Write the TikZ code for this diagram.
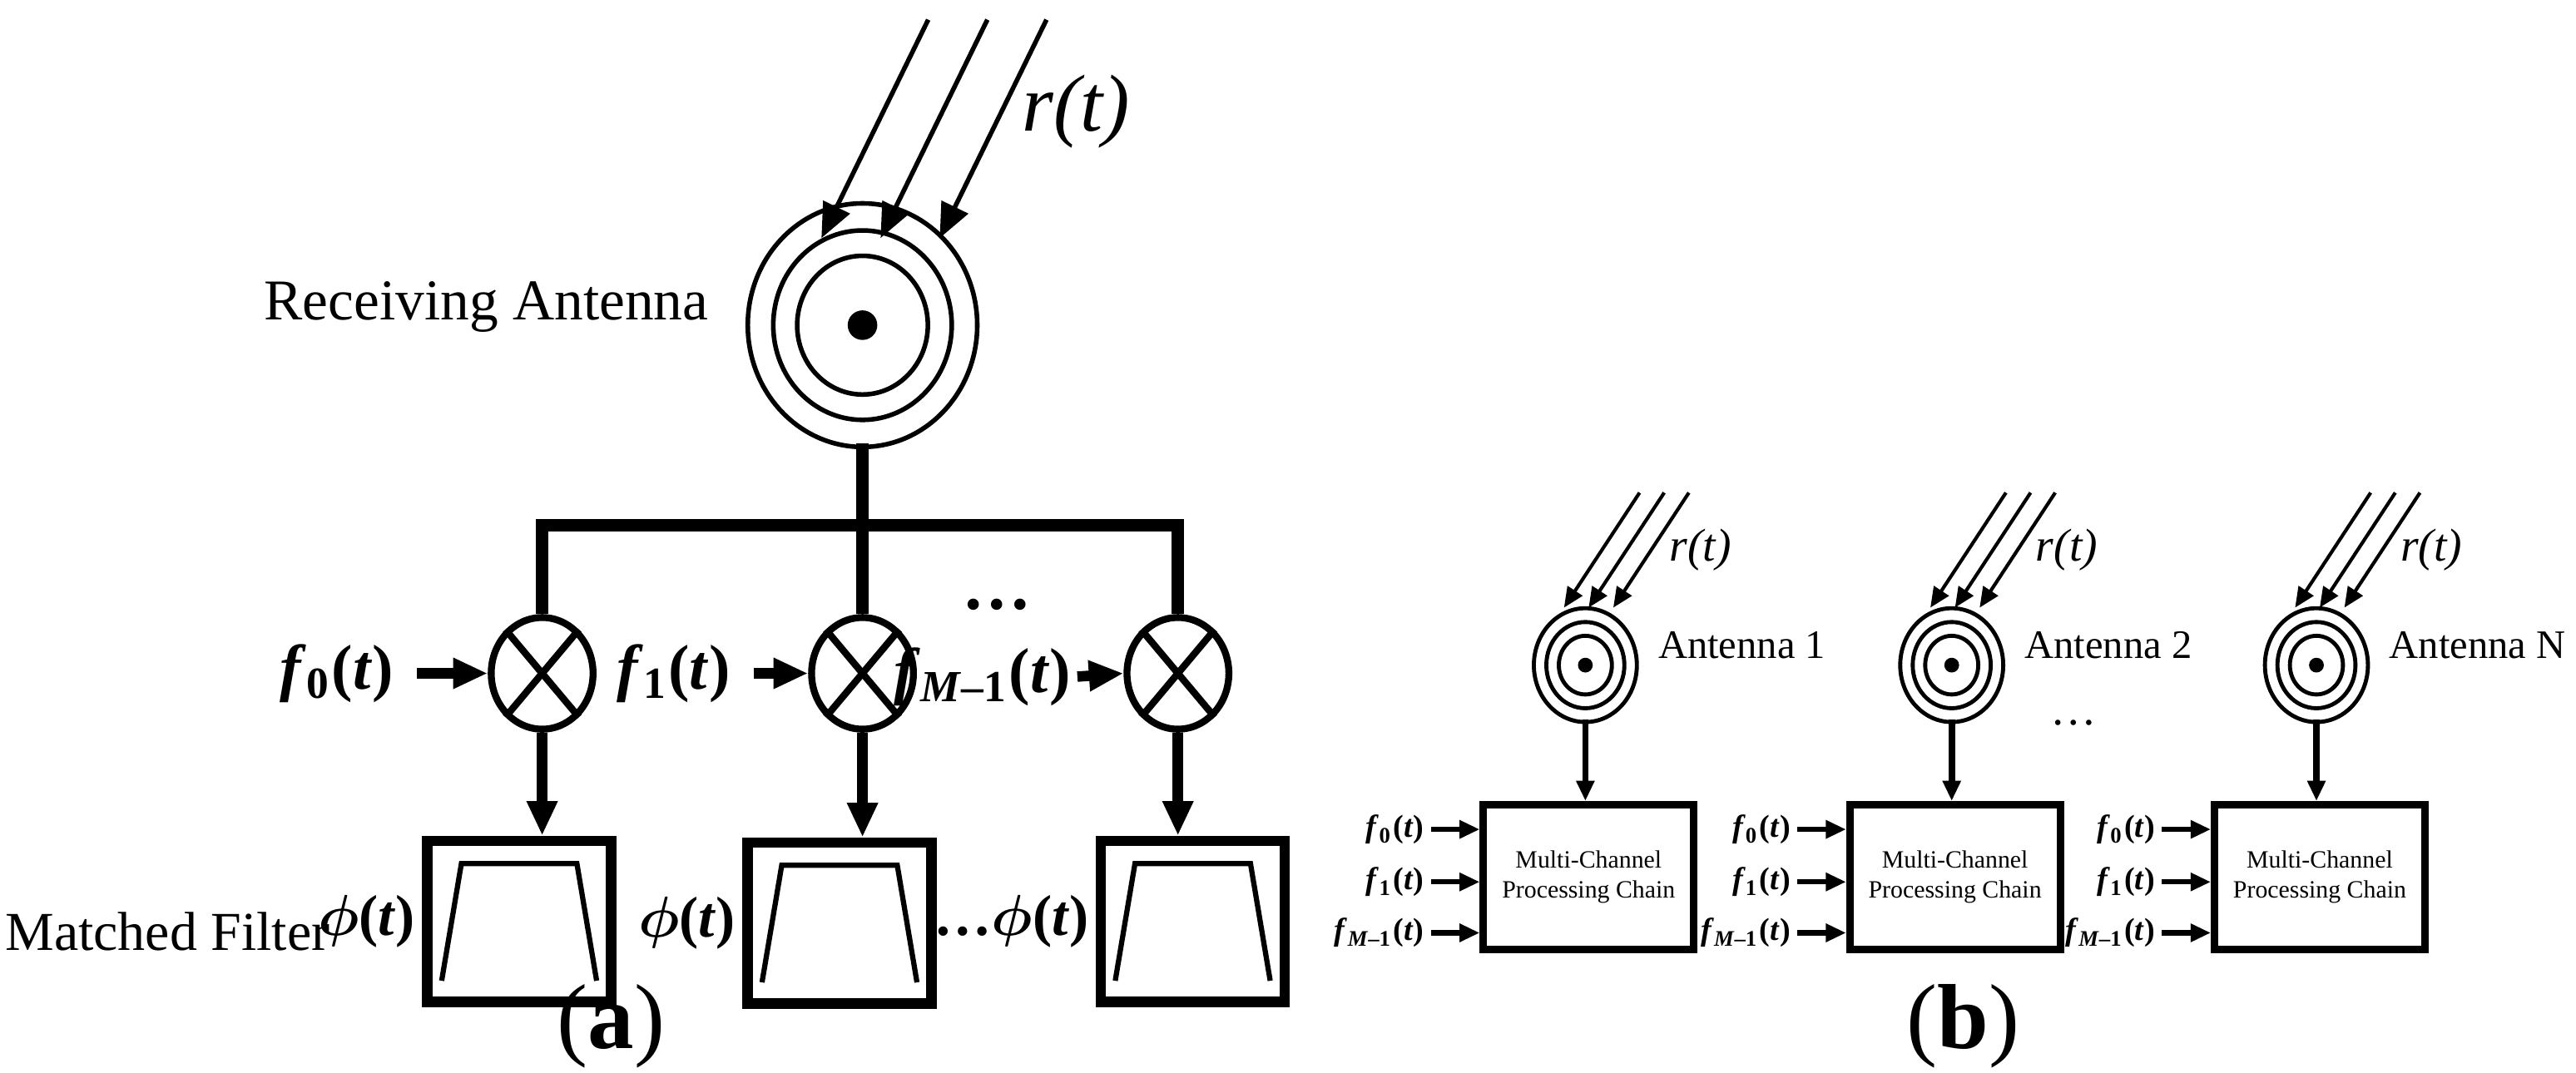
\documentclass[tikz,border=0pt]{standalone}
\usepackage{fontspec}
\setmainfont{Liberation Serif}
\usepackage{bm}
\usetikzlibrary{arrows.meta,shapes.geometric}
\newcommand{\fl}[1]{\textbf{\textit{f}}\textsubscript{\textbf{#1}}\textbf{(\textit{t})}}
\newcommand{\phit}{$\bm{\phi}$\textbf{(\textit{t})}}
\begin{document}
\begin{tikzpicture}[x=0.1mm,y=-0.1mm,
  thin/.style={line width=0.8pt},
  thickl/.style={line width=1.8pt},
  arr/.style={-{Triangle[length=6pt,width=5pt]}},
  sarr/.style={-{Triangle[length=3.5pt,width=3pt]}},
  mix/.style={ellipse,draw,line width=1.2pt,minimum width=6.2mm,minimum height=6.8mm,inner sep=0},
  filt/.style={draw,line width=1.8pt,minimum width=11.2mm,minimum height=9.8mm,inner sep=0},
  chain/.style={draw,line width=1.3pt,minimum width=12.8mm,minimum height=8.8mm,inner sep=0,align=center,font=\fontsize{4.3}{5.2}\selectfont},
  lab/.style={inner sep=1pt}]
\useasboundingbox (0,0) rectangle (1568,653);

% ---------- (a) ----------
\coordinate (A) at (525,198);
\foreach \r in {72,56,41} \draw[thin] (A) ellipse ({\r*0.97} and {\r*1.03});
\fill (A) circle (9);
\foreach \dx in {0,36,72} \draw[thin,arr] (565+\dx,12) -- (500+\dx,145);
\node[font=\fontsize{14}{17}\selectfont\itshape] (ra) at (655,68) {r(t)};
\node[font=\fontsize{10}{12}\selectfont] (recv) at (296,187) {Receiving Antenna};

\node[mix] (m0) at (330,410) {};
\node[mix] (m1) at (525,410) {};
\node[mix] (m2) at (717,410) {};
\foreach \m in {m0,m1,m2} {
  \draw[line width=1.2pt] (\m.50) -- (\m.230) (\m.130) -- (\m.-50);
}
\coordinate (top) at (525,270);
\coordinate (bus) at (525,320);
\draw[line width=2.2pt] (top) -- (bus);
\draw[line width=2.2pt] (m0.north) |- (m2.north |- bus) -- (m2.north);
\draw[line width=2.2pt] (bus) -- (m1.north);

\node[font=\fontsize{11}{14}\selectfont,lab] (f0) at (205,410) {\fl{0}};
\node[font=\fontsize{11}{14}\selectfont,lab] (f1) at (410,410) {\fl{1}};
\node[font=\fontsize{11}{14}\selectfont,lab] (f2) at (598,412) {\fl{\textit{M}--1}};
\node[font=\fontsize{12}{14}\selectfont\bfseries] (dots) at (607,368) {\dots};
\draw[thickl,arr] ([xshift=1mm]f0.east) -- (m0.west);
\draw[thickl,arr] ([xshift=1mm]f1.east) -- (m1.west);
\draw[thickl,arr] (f2.east) -- (m2.west);

\node[filt] (h0) at (316,561) {};
\node[filt] (h1) at (511,562) {};
\node[filt] (h2) at (726,561) {};
\foreach \h in {h0,h1,h2} {
  \draw[line width=0.9pt] ([xshift=1.2mm,yshift=1.6mm]\h.south west) -- ([xshift=2.4mm,yshift=-1.7mm]\h.north west)
     -- ([xshift=-2.4mm,yshift=-1.7mm]\h.north east) -- ([xshift=-1.2mm,yshift=1.6mm]\h.south east);
}
\draw[thickl,arr] (m0.south) -- (m0.south |- h0.north);
\draw[thickl,arr] (m1.south) -- (m1.south |- h1.north);
\draw[thickl,arr] (m2.south) -- (m2.south |- h2.north);

\node[font=\fontsize{10}{13}\selectfont,anchor=east,lab] (p0) at (h0.west) {\phit};
\node[font=\fontsize{10}{13}\selectfont,anchor=east,lab] (p1) at (h1.west) {\phit};
\node[font=\fontsize{10}{13}\selectfont,anchor=east,lab] (p2) at (h2.west) {\textbf{\dots}\phit};
\node[font=\fontsize{9.5}{12}\selectfont] (mf) at (102,567) {Matched Filter};
\node[font=\fontsize{16}{20}\selectfont] (capa) at (372,625) {(\textbf{a})};

% ---------- (b) ----------
\foreach \i/\x/\nm in {1/965/1,2/1188/2,3/1410/N} {
  \coordinate (B\i) at (\x,405);
  \foreach \r in {33,25,17} \draw[line width=0.7pt] (B\i) ellipse ({\r*0.95} and {\r*1.05});
  \fill (B\i) circle (4.5);
  \foreach \dx in {0,15,30} \draw[line width=0.6pt,sarr] (\x+33+\dx,300) -- (\x-13+\dx,370);
  \node[font=\fontsize{8}{10}\selectfont\itshape] (rb\i) at (\x+70,335) {r(t)};
  \node[font=\fontsize{7}{9}\selectfont,anchor=west] (an\i) at (\x+32,393) {Antenna \nm};
  \node[chain] (c\i) at (\x+2,534) {Multi-Channel\\Processing Chain};
  \coordinate (bs\i) at (\x,438);
  \draw[line width=1.1pt,sarr] (bs\i) -- (bs\i |- c\i.north);
  \foreach \k/\lbl/\yy in {0/0/505,1/1/537,2/\textit{M}--1/568} {
    \node[font=\fontsize{5.5}{7}\selectfont,anchor=east,lab] (fb\i\k) at (\x-94,\yy) {\fl{\lbl}};
    \draw[line width=0.9pt,sarr] (fb\i\k.east) -- (c\i.west |- fb\i\k.east);
  }
}
\node[font=\fontsize{8}{10}\selectfont] (bdots) at (1262,440) {\dots};
\node[font=\fontsize{16}{20}\selectfont] (capb) at (1195,625) {(\textbf{b})};
\end{tikzpicture}
\end{document}
